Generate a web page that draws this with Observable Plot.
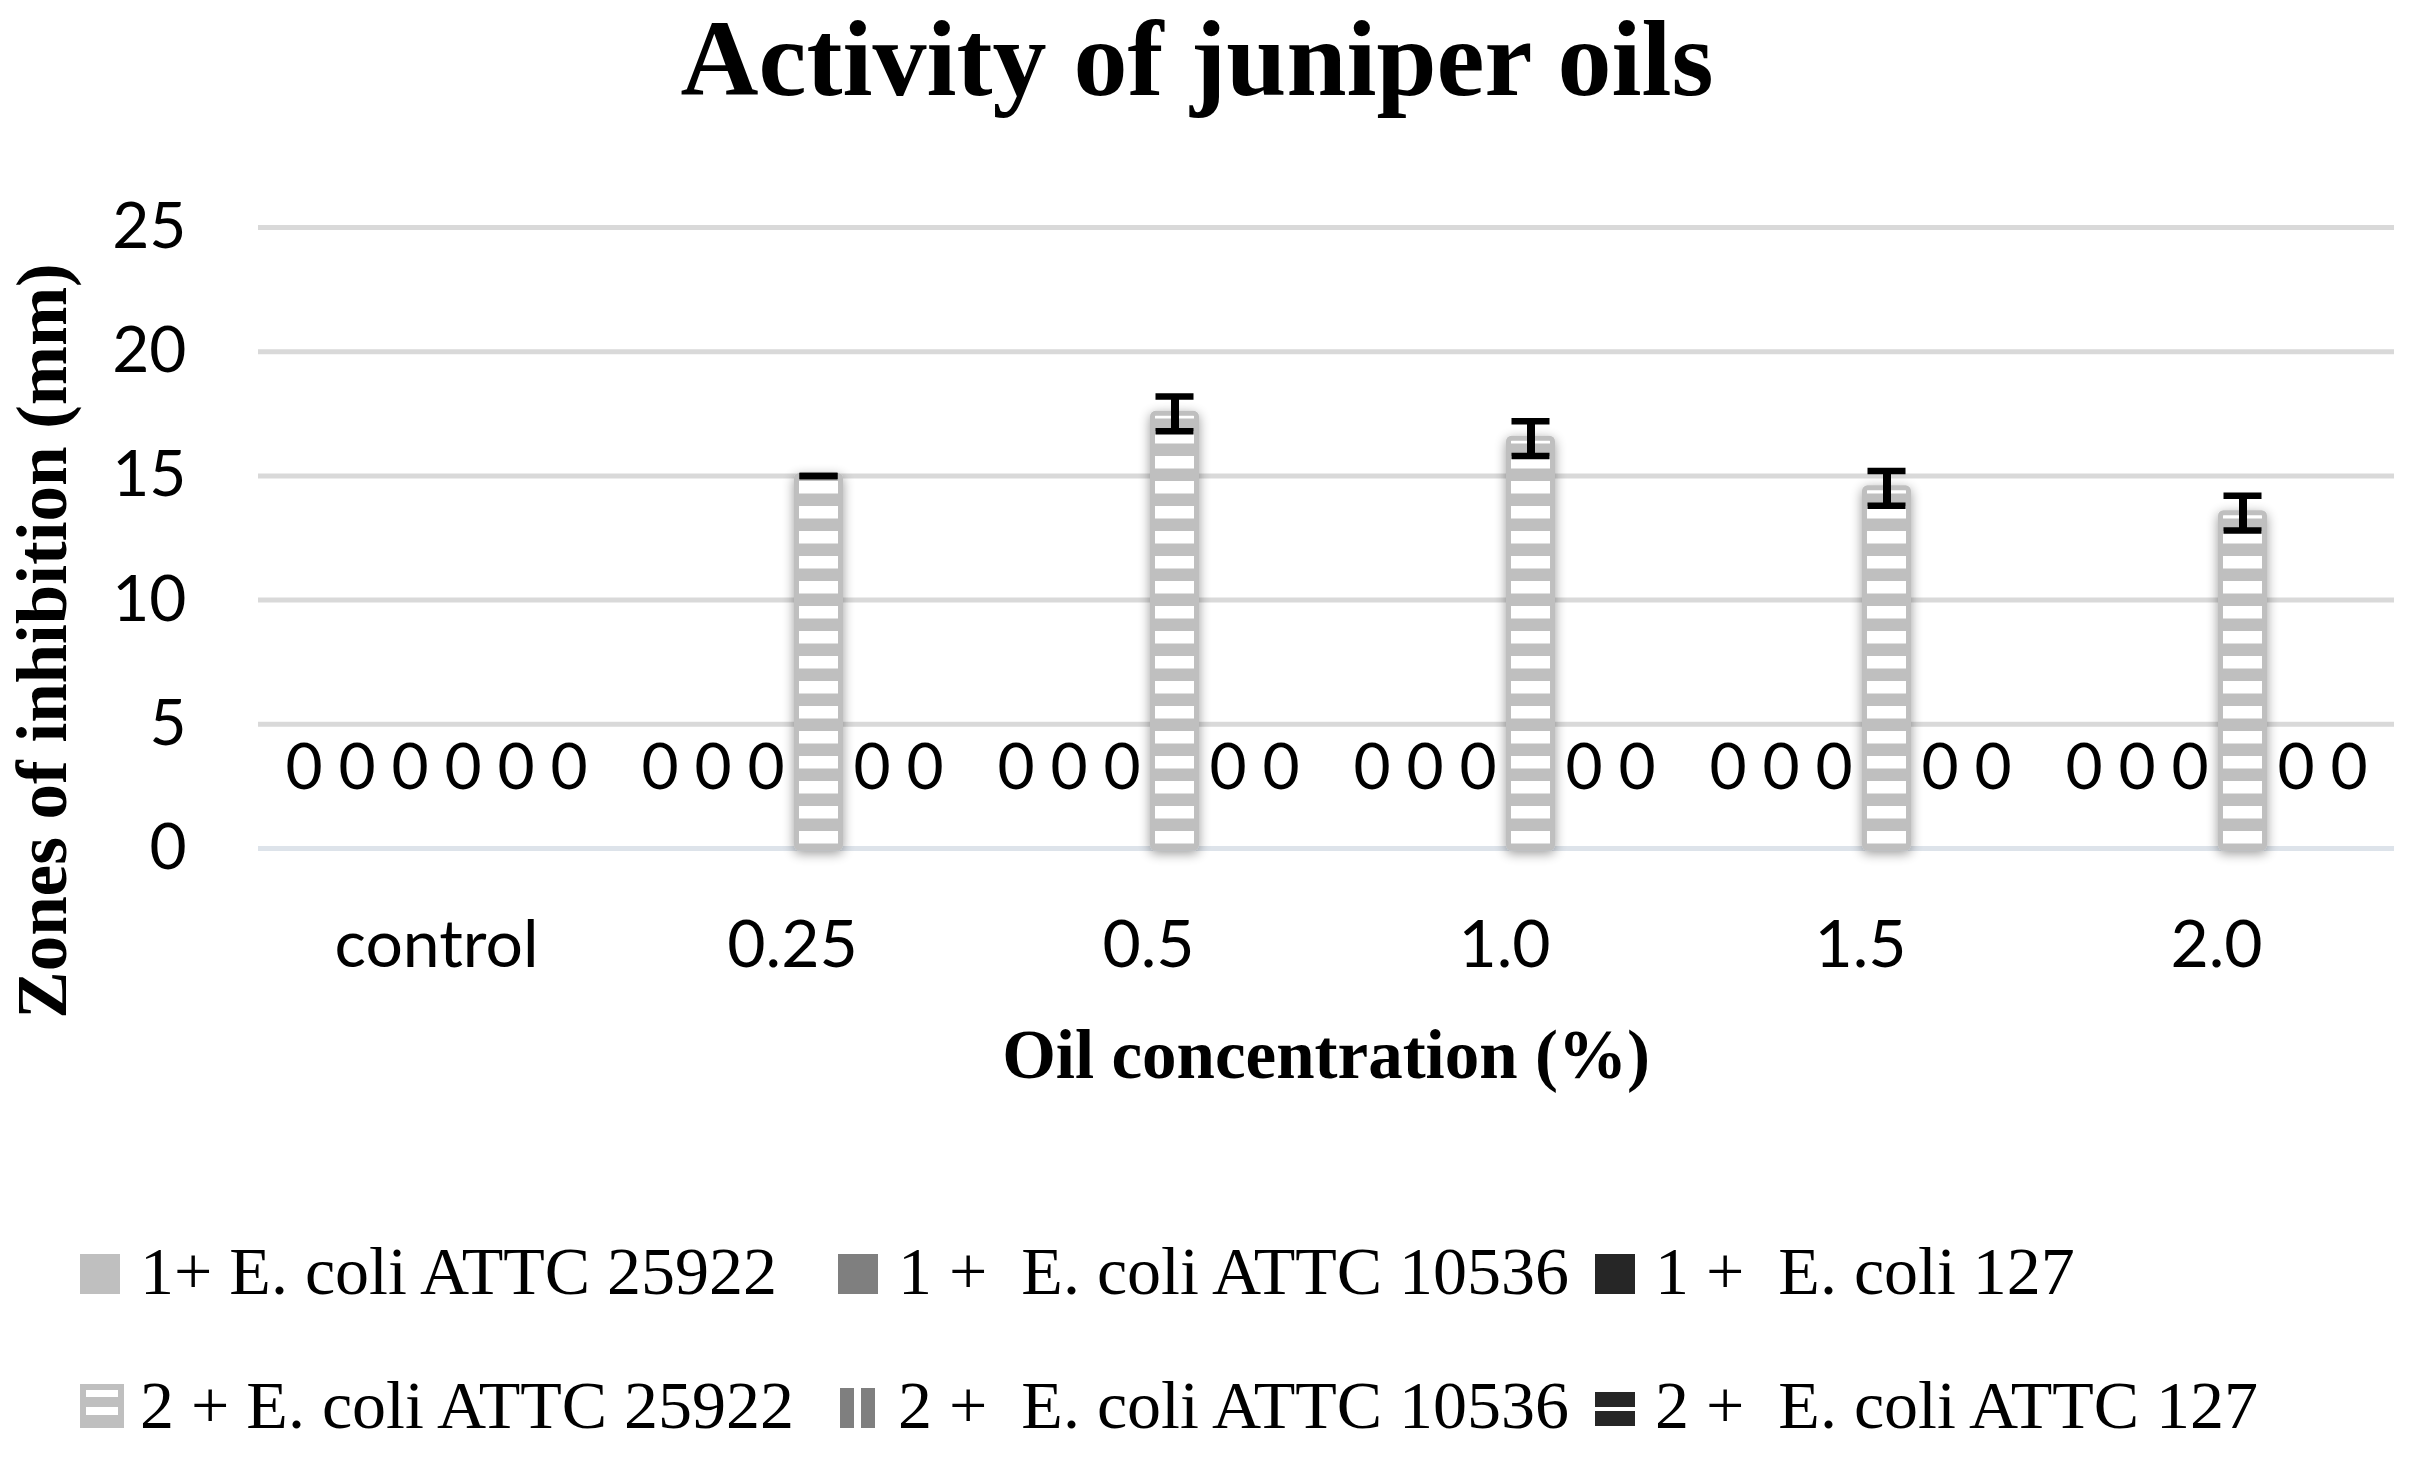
<!DOCTYPE html>
<html><head><meta charset="utf-8">
<script src="https://cdn.jsdelivr.net/npm/d3@7"></script>
<script src="https://cdn.jsdelivr.net/npm/@observablehq/plot@0.6"></script>
<style>
html,body{margin:0;padding:0;background:#fff;}
#wrap{position:relative;width:2421px;height:1464px;overflow:hidden;background:#fff;}
#title{position:absolute;left:0;top:5px;width:2394px;text-align:center;font:bold 108px/1 "Liberation Serif",serif;color:#000;white-space:nowrap;}
#ytitle{position:absolute;left:43px;top:641px;transform:translate(-50%,-50%) rotate(-90deg);font:bold 71px/1.15 "Liberation Serif",serif;color:#000;white-space:nowrap;}
#xtitle{position:absolute;left:0;top:1021px;width:2652px;text-align:center;font:bold 69px/1 "Liberation Serif",serif;color:#000;white-space:nowrap;}
#chart{position:absolute;left:0;top:150px;}
#legend{position:absolute;left:80px;top:1204px;display:grid;grid-template-columns:758px 757px auto;font:68px/134px "Liberation Serif",serif;color:#000;}
#legend .item{white-space:pre;}
#legend svg{vertical-align:baseline;margin-right:20px;}
</style></head><body>
<svg width="0" height="0" style="position:absolute">
<defs>
  <pattern id="p3" patternUnits="userSpaceOnUse" width="20" height="25"><rect width="20" height="25" fill="#bfbfbf"/><rect y="6" width="20" height="12.5" fill="#ffffff"/></pattern>
  <pattern id="p3L" patternUnits="userSpaceOnUse" width="40" height="18"><rect width="40" height="18" fill="#bfbfbf"/><rect y="5" width="40" height="8" fill="#ffffff"/></pattern>
  <pattern id="p4" patternUnits="userSpaceOnUse" width="22" height="20"><rect width="22" height="20" fill="#ffffff"/><rect x="2" width="14" height="20" fill="#7f7f7f"/></pattern>
  <pattern id="p5" patternUnits="userSpaceOnUse" width="20" height="20"><rect width="20" height="20" fill="#ffffff"/><rect y="2" width="20" height="15" fill="#262626"/></pattern>
  <filter id="glow" x="-60%" y="-10%" width="220%" height="125%">
    <feGaussianBlur in="SourceAlpha" stdDeviation="6"/>
    <feOffset dy="3" result="b"/>
    <feComponentTransfer><feFuncA type="linear" slope="0.4"/></feComponentTransfer>
    <feMerge><feMergeNode/><feMergeNode in="SourceGraphic"/></feMerge>
  </filter>
</defs></svg>
<div id="wrap">
  <div id="title">Activity of juniper oils</div>
  <div id="ytitle">Zones of inhibition (mm)</div>
  <div id="xtitle">Oil concentration (%)</div>
  <div id="chart"></div>
  <div id="legend"></div>
</div>
<script>
// ---- data ----
const concentrations = ["control", "0.25", "0.5", "1.0", "1.5", "2.0"];
const seriesNames = [
  "1+ E. coli ATTC 25922",
  "1 +  E. coli ATTC 10536",
  "1 +  E. coli 127",
  "2 + E. coli ATTC 25922",
  "2 +  E. coli ATTC 10536",
  "2 +  E. coli ATTC 127"
];
const oil1_25922 = [0, 0, 0, 0, 0, 0];
const oil1_10536 = [0, 0, 0, 0, 0, 0];
const oil1_127   = [0, 0, 0, 0, 0, 0];
const oil2_25922 = [0, 15, 17.5, 16.5, 14.5, 13.5];
const oil2_10536 = [0, 0, 0, 0, 0, 0];
const oil2_127   = [0, 0, 0, 0, 0, 0];
const err2_25922 = [0, 0, 0.7, 0.7, 0.7, 0.7];
const errZero    = [0, 0, 0, 0, 0, 0];
const yTicks = [0, 5, 10, 15, 20, 25];

const seriesValues = [oil1_25922, oil1_10536, oil1_127, oil2_25922, oil2_10536, oil2_127];
const seriesErrors = [errZero, errZero, errZero, err2_25922, errZero, errZero];

// ---- styles ----
const seriesFill = ["#bfbfbf", "#7f7f7f", "#262626", "url(#p3)", "url(#p4)", "url(#p5)"];
const seriesStroke = ["none", "none", "none", "#bfbfbf", "none", "none"];

const rows = concentrations.flatMap((c, i) =>
  seriesNames.map((s, j) => ({
    conc: c, series: s, value: seriesValues[j][i], err: seriesErrors[j][i],
    fill: seriesFill[j], stroke: seriesStroke[j]
  }))
);

const chart = Plot.plot({
  width: 2421,
  height: 960,
  marginLeft: 255,
  marginRight: 25,
  marginTop: 77,
  marginBottom: 262,
  style: {fontFamily: "Lato", fontSize: "64px", color: "#000", background: "transparent", overflow: "visible"},
  facet: {data: rows, x: "conc"},
  fx: {domain: concentrations, padding: 0, axis: "bottom", tickSize: 0, tickPadding: 72, label: null},
  x: {domain: seriesNames, paddingInner: 0.08, paddingOuter: 0.345, axis: null},
  y: {domain: [0, 25], ticks: yTicks, tickSize: 0, tickPadding: 72, label: null},
  color: {type: "identity"},
  marks: [
    Plot.ruleY(yTicks.filter(t => t > 0), {stroke: "#d9d9d9", strokeWidth: 5}),
    Plot.ruleY([0], {stroke: "#dde3ea", strokeWidth: 5}),
    Plot.barY(rows, {
      filter: d => d.value > 0,
      x: "series", y: "value",
      fill: "fill", stroke: "stroke", strokeWidth: 5,
      insetLeft: 2.5, insetRight: 2.5, rx: 3
    }),
    Plot.ruleX(rows, {
      filter: d => d.value > 0,
      x: "series", y1: d => d.value - d.err, y2: d => d.value + d.err,
      stroke: "#000", strokeWidth: 8
    }),
    Plot.tickY(rows, {
      filter: d => d.value > 0,
      x: "series", y: d => d.value + d.err,
      stroke: "#000", strokeWidth: 6.5, insetLeft: 5.5, insetRight: 5.5
    }),
    Plot.tickY(rows, {
      filter: d => d.value > 0,
      x: "series", y: d => d.value - d.err,
      stroke: "#000", strokeWidth: 6.5, insetLeft: 5.5, insetRight: 5.5
    }),
    Plot.text(rows, {
      filter: d => d.value === 0,
      x: "series", y: "value", text: d => String(d.value),
      dy: -80, fontSize: 64, fontFamily: "Lato", fill: "#000"
    })
  ]
});
document.getElementById("chart").appendChild(chart);
d3.select(chart).selectAll('g[aria-label="bar"]').attr("filter", "url(#glow)");
// x tick labels slightly larger, like the reference
d3.select(chart).selectAll('g[aria-label="fx-axis tick label"], g[aria-label="fx-axis"]').style("font-size", "66px");

// ---- legend ----
const swatches = [
  '<rect width="40" height="40" fill="#bfbfbf"/>',
  '<rect width="40" height="40" fill="#7f7f7f"/>',
  '<rect width="40" height="40" fill="#262626"/>',
  '<rect x="3" y="3" width="38" height="38" fill="url(#p3L)" stroke="#bfbfbf" stroke-width="6"/>',
  '<rect x="2" width="14" height="40" fill="#7f7f7f"/><rect x="23" width="14" height="40" fill="#7f7f7f"/>',
  '<rect y="4" width="40" height="15" fill="#262626"/><rect y="23" width="40" height="15" fill="#262626"/>'
];
const legend = d3.select("#legend");
seriesNames.forEach((name, j) => {
  const item = legend.append("div").attr("class", "item");
  const w = j === 3 ? 44 : 40;
  item.append("svg").attr("width", w).attr("height", j === 3 ? 44 : 40)
    .style("margin-right", j === 3 ? "16px" : "20px")
    .html(swatches[j]);
  item.append("span").text(name);
});
</script>
</body></html>
